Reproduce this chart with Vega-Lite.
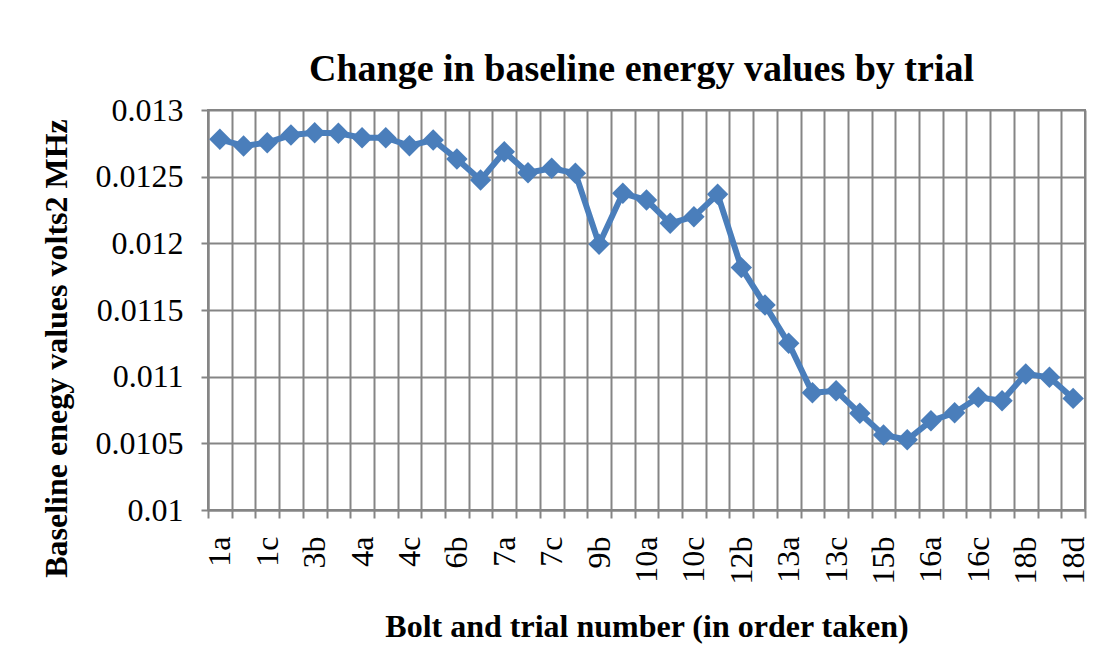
{
  "$schema": "https://vega.github.io/schema/vega-lite/v6.json",
  "autosize": "none",
  "padding": {"left": 208, "top": 110, "right": 14, "bottom": 159},
  "width": 877,
  "height": 400,
  "background": "white",
  "title": {
    "text": "Change in baseline energy values by trial",
    "font": "Liberation Serif",
    "fontSize": 38,
    "fontWeight": "bold",
    "color": "black",
    "anchor": "middle",
    "dx": -5,
    "dy": 4,
    "offset": 9
  },
  "data": {
    "values": [
      {"trial": "1a", "energy": 0.01278},
      {"trial": "1b", "energy": 0.01273},
      {"trial": "1c", "energy": 0.012755},
      {"trial": "3a", "energy": 0.012812},
      {"trial": "3b", "energy": 0.01283},
      {"trial": "3c", "energy": 0.012825},
      {"trial": "4a", "energy": 0.012792},
      {"trial": "4b", "energy": 0.012792},
      {"trial": "4c", "energy": 0.012732},
      {"trial": "6a", "energy": 0.012775},
      {"trial": "6b", "energy": 0.012632},
      {"trial": "6c", "energy": 0.012475},
      {"trial": "7a", "energy": 0.012687},
      {"trial": "7b", "energy": 0.01253},
      {"trial": "7c", "energy": 0.012563},
      {"trial": "9a", "energy": 0.012525},
      {"trial": "9b", "energy": 0.011993},
      {"trial": "9c", "energy": 0.012375},
      {"trial": "10a", "energy": 0.012325},
      {"trial": "10b", "energy": 0.01215},
      {"trial": "10c", "energy": 0.0122},
      {"trial": "12a", "energy": 0.012368},
      {"trial": "12b", "energy": 0.011818},
      {"trial": "12c", "energy": 0.011537},
      {"trial": "13a", "energy": 0.01125},
      {"trial": "13b", "energy": 0.010879},
      {"trial": "13c", "energy": 0.010894},
      {"trial": "15a", "energy": 0.010725},
      {"trial": "15b", "energy": 0.010562},
      {"trial": "15c", "energy": 0.010527},
      {"trial": "16a", "energy": 0.010669},
      {"trial": "16b", "energy": 0.010729},
      {"trial": "16c", "energy": 0.010845},
      {"trial": "18a", "energy": 0.010819},
      {"trial": "18b", "energy": 0.01102},
      {"trial": "18c", "energy": 0.010995},
      {"trial": "18d", "energy": 0.010837}
    ]
  },
  "encoding": {
    "x": {
      "field": "trial",
      "type": "nominal",
      "sort": null,
      "scale": {"type": "band", "paddingInner": 0, "paddingOuter": 0},
      "axis": {
        "title": "Bolt and trial number (in order taken)",
        "titleFont": "Liberation Serif",
        "titleFontSize": 32,
        "titleFontWeight": "bold",
        "titleColor": "black",
        "titlePadding": 27,
        "labelFont": "Liberation Serif",
        "labelFontSize": 32,
        "labelColor": "black",
        "labelAngle": -90,
        "labelPadding": 18,
        "labelExpr": "indexof(['1a','1c','3b','4a','4c','6b','7a','7c','9b','10a','10c','12b','13a','13c','15b','16a','16c','18b','18d'], datum.value) >= 0 ? datum.value : ''",
        "tickBand": "extent",
        "tickSize": 8,
        "tickColor": "#858585",
        "tickWidth": 2,
        "grid": true,
        "gridColor": "#858585",
        "gridWidth": 2,
        "domainColor": "#858585",
        "domainWidth": 2
      }
    },
    "y": {
      "field": "energy",
      "type": "quantitative",
      "scale": {"domain": [0.01, 0.013], "nice": false, "zero": false},
      "axis": {
        "title": "Baseline enegy values volts2 MHz",
        "titleFont": "Liberation Serif",
        "titleFontSize": 32,
        "titleFontWeight": "bold",
        "titleColor": "black",
        "titlePadding": 22,
        "titleY": 238,
        "values": [0.01, 0.0105, 0.011, 0.0115, 0.012, 0.0125, 0.013],
        "format": ".4~f",
        "labelFont": "Liberation Serif",
        "labelFontSize": 32,
        "labelColor": "black",
        "labelPadding": 18,
        "tickSize": 7,
        "tickColor": "#858585",
        "tickWidth": 2,
        "grid": true,
        "gridColor": "#858585",
        "gridWidth": 2,
        "domainColor": "#858585",
        "domainWidth": 2
      }
    }
  },
  "layer": [
    {"mark": {"type": "line", "color": "#4a7ebb", "strokeWidth": 6}},
    {"mark": {"type": "point", "shape": "diamond", "size": 460, "filled": true, "color": "#4a7ebb", "opacity": 1}}
  ],
  "config": {
    "view": {"stroke": "#858585", "strokeWidth": 2}
  }
}
